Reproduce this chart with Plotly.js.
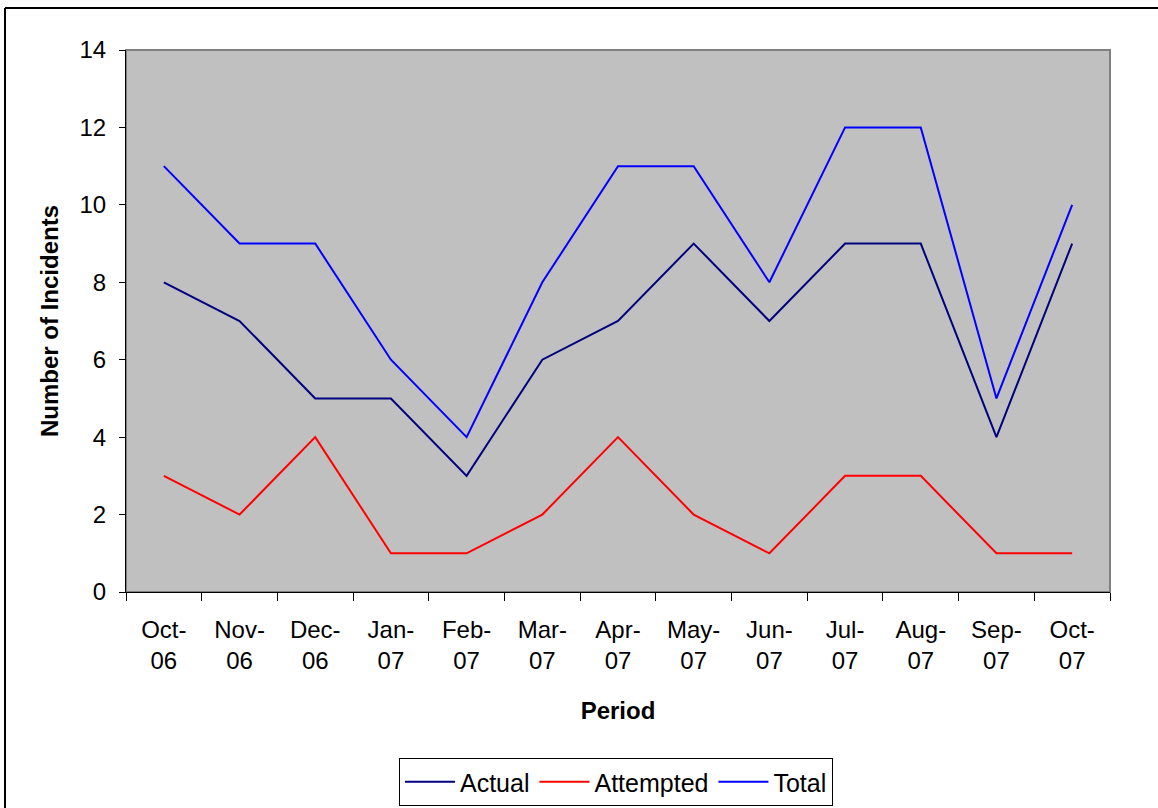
<!DOCTYPE html>
<html>
<head>
<meta charset="utf-8">
<script src="https://cdn.plot.ly/plotly-3.0.1.min.js"></script>
<style>
html,body{margin:0;padding:0;background:#fff;}
#chart{width:1158px;height:808px;}
</style>
</head>
<body>
<div id="chart"></div>
<script>
const periods = ["Oct-<br>06","Nov-<br>06","Dec-<br>06","Jan-<br>07","Feb-<br>07","Mar-<br>07","Apr-<br>07","May-<br>07","Jun-<br>07","Jul-<br>07","Aug-<br>07","Sep-<br>07","Oct-<br>07"];
const actual    = [8,7,5,5,3,6,7,9,7,9,9,4,9];
const attempted = [3,2,4,1,1,2,4,2,1,3,3,1,1];
const total     = [11,9,9,6,4,8,11,11,8,12,12,5,10];

const font = {family: "Liberation Sans, Arial, sans-serif", size: 24, color: "#000"};
const legFont = {family: "Liberation Sans, Arial, sans-serif", size: 25, color: "#000"};

const traces = [
  {x: periods, y: actual, name: "Actual", type: "scatter", mode: "lines", line: {color: "#000080", width: 2}},
  {x: periods, y: attempted, name: "Attempted", type: "scatter", mode: "lines", line: {color: "#FF0000", width: 2}},
  {x: periods, y: total, name: "Total", type: "scatter", mode: "lines", line: {color: "#0000FF", width: 2}}
];

const L = 126, R = 48, T = 50, B = 216, W = 1158, H = 808;
const pw = W - L - R, ph = H - T - B;
function px(x){ return (x - L) / pw; }
function py(y){ return (H - B - y) / ph; }

const layout = {
  width: W, height: H,
  margin: {l: L, r: R, t: T, b: B, autoexpand: false},
  paper_bgcolor: "#fff",
  plot_bgcolor: "#C0C0C0",
  font: font,
  showlegend: true,
  legend: {
    orientation: "h", x: px(616), xanchor: "center", y: py(758), yanchor: "top",
    bordercolor: "#000", borderwidth: 1, bgcolor: "#fff",
    font: legFont, itemwidth: 50, tracegroupgap: 0
  },
  xaxis: {
    type: "category",
    range: [-0.5, 12.5],
    automargin: false,
    tickson: "boundaries",
    ticks: "outside", ticklen: 8, tickcolor: "#000", tickwidth: 1,
    ticklabelstandoff: 16,
    showline: true, linecolor: "#000", linewidth: 1,
    showgrid: false, zeroline: false,
    tickfont: font,
    title: {text: "<b>Period</b>", font: font, standoff: 29},
    fixedrange: true
  },
  yaxis: {
    range: [0, 14], dtick: 2,
    automargin: false,
    ticks: "outside", ticklen: 6, tickcolor: "#000", tickwidth: 1,
    ticklabelstandoff: 8,
    showline: true, linecolor: "#000", linewidth: 1,
    showgrid: false, zeroline: false,
    tickfont: font,
    title: {text: "<b>Number of Incidents</b>", font: font, standoff: 14},
    fixedrange: true
  },
  shapes: [
    {type: "rect", xref: "paper", yref: "paper", x0: 0, x1: 1, y0: 0, y1: 1,
     line: {color: "#808080", width: 2}, layer: "below"},
    {type: "line", xref: "paper", yref: "paper", x0: px(5), x1: px(1160), y0: py(8), y1: py(8),
     line: {color: "#000", width: 2}},
    {type: "line", xref: "paper", yref: "paper", x0: px(5), x1: px(5), y0: py(8), y1: py(812),
     line: {color: "#000", width: 2}}
  ]
};

Plotly.newPlot("chart", traces, layout, {displayModeBar: false, staticPlot: true});
</script>
</body>
</html>
